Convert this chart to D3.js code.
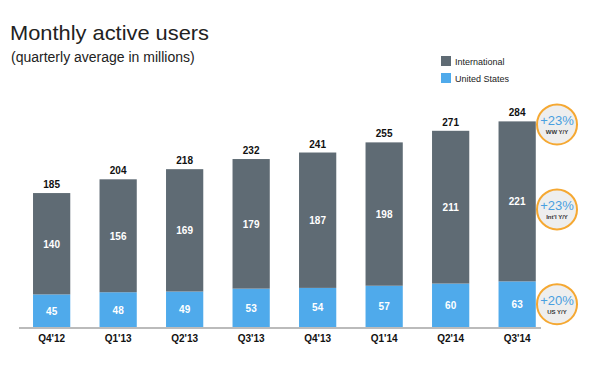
<!DOCTYPE html>
<html><head><meta charset="utf-8">
<script src="https://cdn.jsdelivr.net/npm/d3@7"></script>
<style>body{margin:0;background:#fff;}svg{display:block;font-family:"Liberation Sans",Arial,sans-serif;}</style>
</head><body>
<svg id="c" width="598" height="368"></svg>
<script>
const categories = ["Q4'12","Q1'13","Q2'13","Q3'13","Q4'13","Q1'14","Q2'14","Q3'14"];
const usValues = [45,48,49,53,54,57,60,63];
const intlValues = [140,156,169,179,187,198,211,221];
const totalValues = [185,204,218,232,241,255,271,284];
const seriesNames = ["International","United States"];
const badges = [{pct:"+23%",label:"WW Y/Y",series:"total"},{pct:"+23%",label:"Int'l Y/Y",series:"intl"},{pct:"+20%",label:"US Y/Y",series:"us"}];

const colIntl = "#5f6b74", colUS = "#4faaeb";
const svg = d3.select("#c");
const base = 327;
const x = d3.scaleBand().domain(categories).range([16.4,552.4]).paddingInner(0.44).paddingOuter(0.25);
const y = d3.scaleLinear().domain([0,300]).range([base, base-0.724*300]);

svg.append("text").attr("x",10).attr("y",40).attr("font-size",21).attr("fill","#222")
  .attr("textLength",199).attr("lengthAdjust","spacingAndGlyphs").text("Monthly active users");
svg.append("text").attr("x",11).attr("y",62).attr("font-size",14).attr("fill","#222").text("(quarterly average in millions)");

const g = svg.append("g");
categories.forEach((c,i)=>{
  const bx = x(c), bw = x.bandwidth();
  g.append("rect").attr("x",bx).attr("width",bw).attr("y",y(usValues[i])).attr("height",base-y(usValues[i])).attr("fill",colUS);
  g.append("rect").attr("x",bx).attr("width",bw).attr("y",y(totalValues[i])).attr("height",y(usValues[i])-y(totalValues[i])).attr("fill",colIntl);
  const cx = bx+bw/2;
  g.append("text").attr("x",cx).attr("y",y(usValues[i]/2)+4).attr("text-anchor","middle").attr("font-size",10).attr("font-weight","bold").attr("fill","#fff").text(usValues[i]);
  g.append("text").attr("x",cx).attr("y",y(usValues[i]+intlValues[i]/2)+4).attr("text-anchor","middle").attr("font-size",10).attr("font-weight","bold").attr("fill","#fff").text(intlValues[i]);
  g.append("text").attr("x",cx).attr("y",y(totalValues[i])-5).attr("text-anchor","middle").attr("font-size",10).attr("font-weight","bold").attr("fill","#111").text(totalValues[i]);
});

const axis = svg.append("g").attr("transform",`translate(0,${base})`).call(d3.axisBottom(x).tickSize(0).tickPadding(8));
axis.select(".domain").remove();
axis.selectAll("text").attr("font-size",10).attr("font-weight","bold").attr("fill","#111").attr("font-family","Liberation Sans, Arial, sans-serif");
svg.append("line").attr("x1",19).attr("x2",541).attr("y1",base+1).attr("y2",base+1).attr("stroke","#bbb").attr("stroke-width",2);

// legend
const leg = svg.append("g");
[colIntl,colUS].forEach((col,i)=>{
  leg.append("rect").attr("x",441).attr("y",56+i*17).attr("width",10).attr("height",10).attr("fill",col);
  leg.append("text").attr("x",455).attr("y",65+i*17).attr("font-size",9).attr("fill","#222").text(seriesNames[i]);
});

// badges
const last = categories.length-1;
const badgeY = {total: y(totalValues[last]-1.5)+2, intl: y(usValues[last]+intlValues[last]*0.45), us: y(usValues[last]/2)};
badges.forEach(b=>{
  const cy = badgeY[b.series];
  const bg = svg.append("g").attr("transform",`translate(557,${cy})`);
  bg.append("circle").attr("r",20).attr("fill","#eeeeee").attr("stroke","#f5a832").attr("stroke-width",2);
  bg.append("text").attr("y",1).attr("text-anchor","middle").attr("font-size",13).attr("fill","#4a9fe0").text(b.pct);
  bg.append("text").attr("y",10).attr("text-anchor","middle").attr("font-size",6).attr("font-weight","bold").attr("fill","#333").text(b.label);
});
</script>
</body></html>
